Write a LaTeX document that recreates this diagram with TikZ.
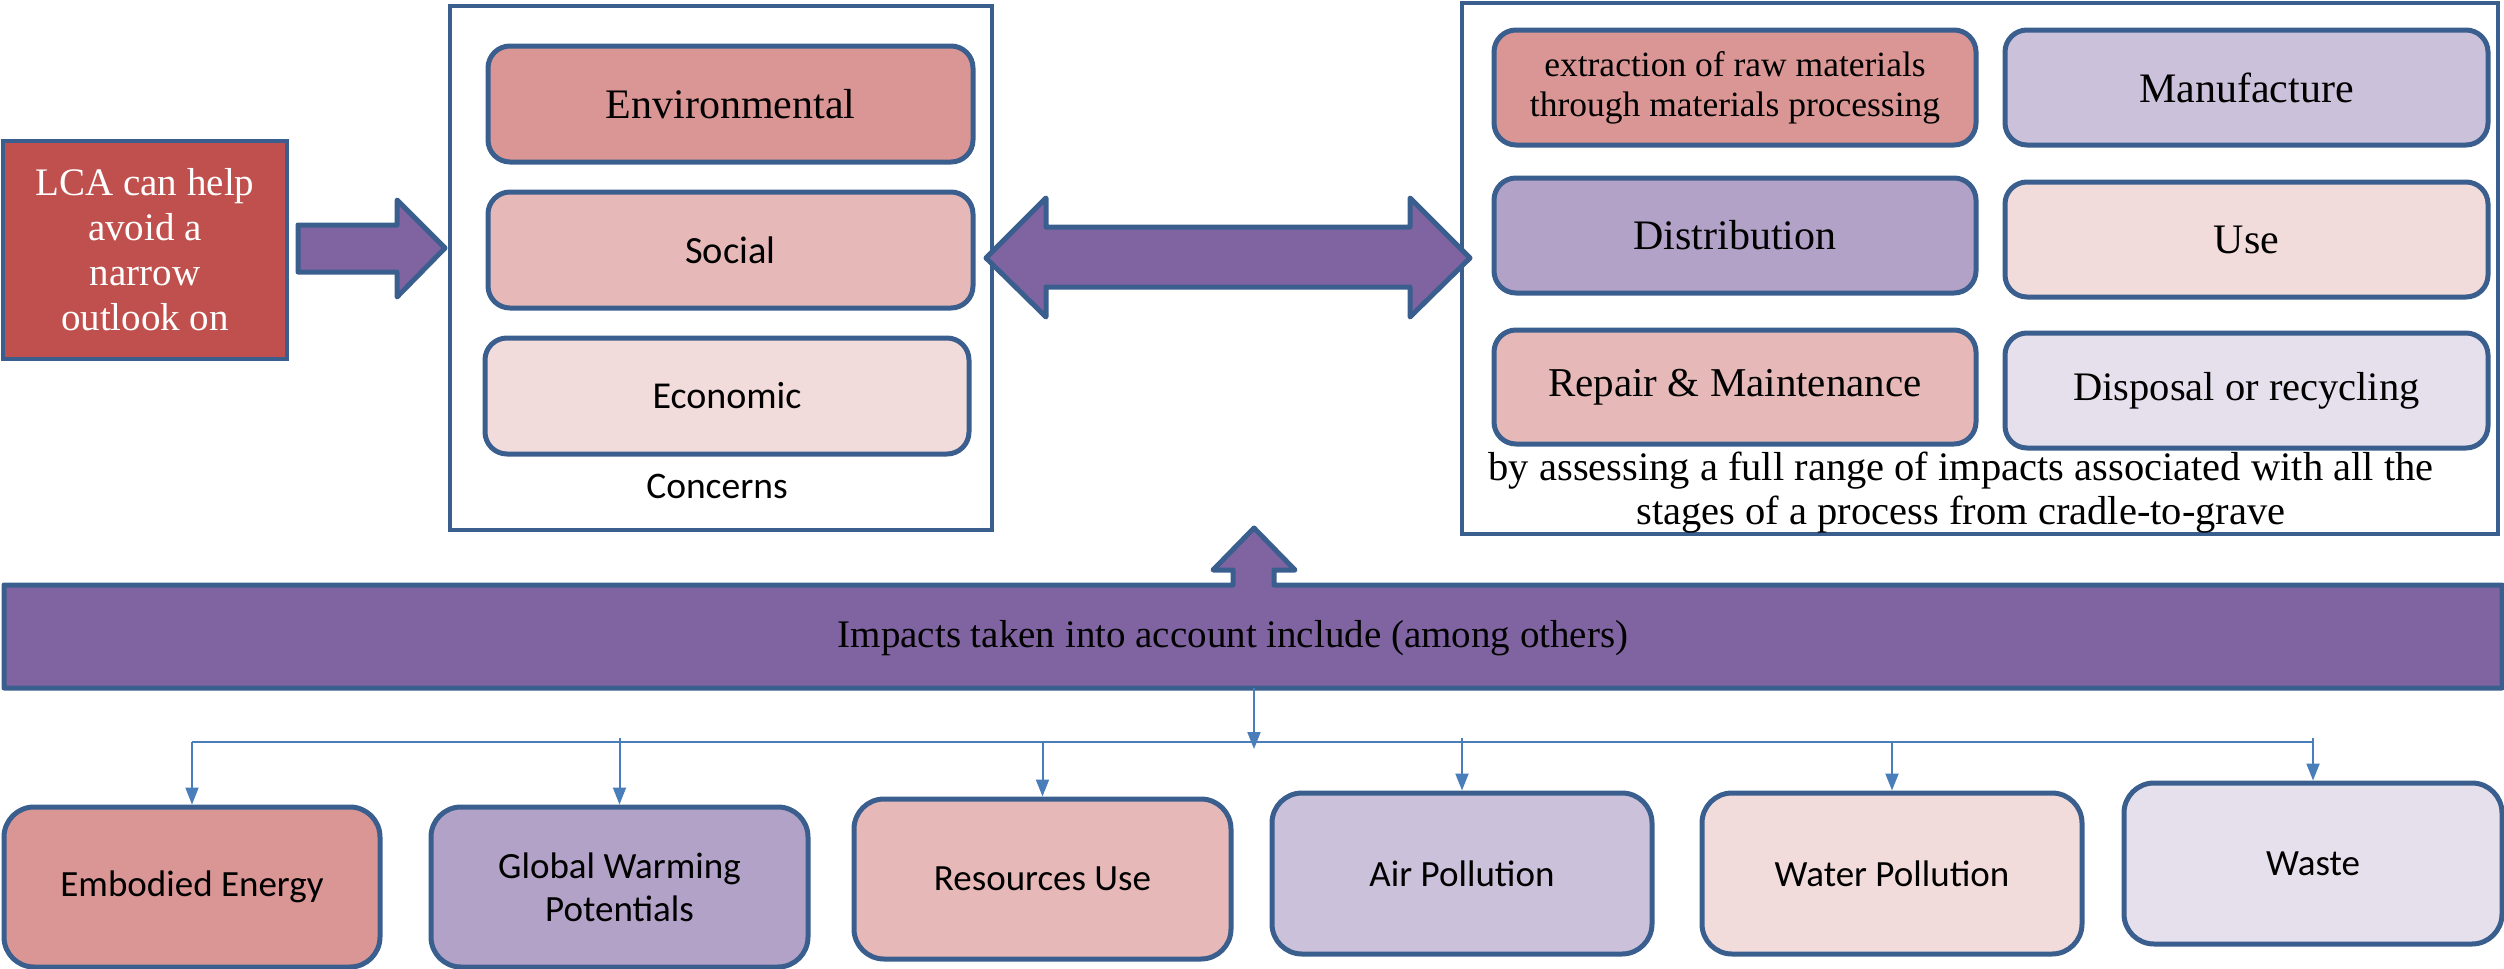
\documentclass[tikz,border=0pt]{standalone}
\usepackage{fontspec}
\setmainfont{Liberation Serif}
\newfontfamily\calib{Carlito}
\usetikzlibrary{arrows.meta}
\definecolor{bord}{HTML}{3A5F8E}
\definecolor{purp}{HTML}{8064A2}
\definecolor{redA}{HTML}{C0504D}
\definecolor{rose1}{HTML}{D99694}
\definecolor{rose2}{HTML}{E6B9B8}
\definecolor{rose3}{HTML}{F2DCDB}
\definecolor{lav1}{HTML}{B3A2C7}
\definecolor{lav2}{HTML}{CCC1DA}
\definecolor{lav3}{HTML}{E6E0EC}
\definecolor{connc}{HTML}{4A7EBB}
\tikzset{
  wh/.style 2 args={minimum width=#1pt, minimum height=#2pt},
  box/.style={draw=bord, line width=5pt, rounded corners=22pt, align=center, inner sep=0pt},
  serifbox/.style={box, font=\fontsize{42}{48}\selectfont},
  sansbox/.style={box, rounded corners=30pt, font=\calib\fontsize{37}{43}\selectfont},
  outerframe/.style={draw=bord, line width=4pt, inner sep=0pt},
  blockarrow/.style={draw=bord, fill=purp, line width=5pt, line join=round},
  connline/.style={draw=connc, line width=2pt},
  connarrow/.style={connline, -{Triangle[width=13pt,length=17pt]}},
}
\begin{document}
\begin{tikzpicture}[x=1pt,y=-1pt]
\useasboundingbox (0,0) rectangle (2504,969);

% left box
\node[outerframe, fill=redA, rounded corners=0pt, wh={284}{218}, align=center,
      text=white, font=\fontsize{39}{45}\selectfont] (lca) at (145,250)
  {LCA can help\\avoid a\\narrow\\outlook on};

% concerns frame
\node[outerframe, wh={542}{524}] (concerns) at (721,268) {};
\node[serifbox, fill=rose1, wh={485}{116}] (env) at (730.5,104) {Environmental};
\node[box, fill=rose2, wh={485}{116}, font=\calib\fontsize{38.5}{44}\selectfont] (soc) at (730.5,250) {Social};
\node[box, fill=rose3, wh={484}{116}, font=\calib\fontsize{38}{44}\selectfont] (eco) at (727,396) {Economic};
\node[font=\calib\fontsize{37.5}{43}\selectfont] (conc) at (717,486) {Concerns};

% stages frame
\node[outerframe, wh={1036}{531}] (stages) at (1980,268.5) {};
\node[box, fill=rose1, wh={482}{115}, font=\fontsize{35.5}{40}\selectfont] (extr) at (1735,87.5)
  {extraction of raw materials\\through materials processing};
\node[serifbox, fill=lav2, wh={483}{115}] (manu) at (2246.5,87.5) {Manufacture};
\node[serifbox, fill=lav1, wh={482}{115}] (dist) at (1735,235.5) {Distribution};
\node[serifbox, fill=rose3, wh={483}{115}] (use) at (2246.5,239.5) {Use};
\node[serifbox, fill=rose2, wh={482}{114}, font=\fontsize{41}{47}\selectfont] (rep) at (1735,387) {Repair \& Maintenance};
\node[serifbox, fill=lav3, wh={483}{115}, font=\fontsize{40.5}{47}\selectfont] (disp) at (2246.5,390.5) {Disposal or recycling};
\node[align=center, font=\fontsize{40.5}{44}\selectfont] (assess) at (1961,493)
  {by assessing a full range of impacts associated with all the\\stages of a process from cradle-to-grave};

% block arrows
\draw[blockarrow] (298,225) -- (397,225) -- (397,200) -- (445,248) -- (397,297) -- (397,272) -- (298,272) -- cycle;
\draw[blockarrow] (986,258) -- (1046,198) -- (1046,227) -- (1410,227) -- (1410,198) -- (1470,258)
  -- (1410,317) -- (1410,287) -- (1046,287) -- (1046,317) -- cycle;

% banner with up arrow
\draw[blockarrow] (4,585) -- (1233,585) -- (1233,570) -- (1213,570) -- (1254,528) -- (1295,570)
  -- (1274,570) -- (1274,585) -- (2502,585) -- (2502,688) -- (4,688) -- cycle;
\node[inner sep=0pt, wh={2498}{103}] (banner) at (1253,636.5) {};
\node[font=\fontsize{39}{45}\selectfont] (bantext) at (1233,638)
  {Impacts taken into account include (among others)};

% bottom boxes
\node[sansbox, fill=rose1, wh={376}{160}] (emb) at (192,887) {Embodied Energy};
\node[sansbox, fill=lav1, wh={377}{160}] (gwp) at (619.5,887) {Global Warming\\Potentials};
\node[sansbox, fill=rose2, wh={377}{160}] (res) at (1042.5,879) {Resources Use};
\node[sansbox, fill=lav2, wh={380}{161}] (air) at (1462,873.5) {Air Pollution};
\node[sansbox, fill=rose3, wh={380}{161}] (wat) at (1892,873.5) {Water Pollution};
\node[sansbox, fill=lav3, wh={378}{161}] (was) at (2313,863.5) {Waste};

% connectors
\coordinate (busL) at (192,742);
\coordinate (busR) at (2314,742);
\coordinate (trunk) at (1254,688);
\draw[connline] (busL) -- (busR);
\draw[connarrow] (trunk) -- (trunk |- 0,749);
\draw[connarrow] (emb.north |- busL) -- (emb.north);
\draw[connarrow] ([yshift=4pt]gwp.north |- busL) -- (gwp.north);
\draw[connarrow] (res.north |- busL) -- (res.north);
\draw[connarrow] ([yshift=4pt]air.north |- busL) -- (air.north);
\draw[connarrow] (wat.north |- busL) -- (wat.north);
\draw[connarrow] ([yshift=4pt]was.north |- busL) -- (was.north);
\end{tikzpicture}
\end{document}
